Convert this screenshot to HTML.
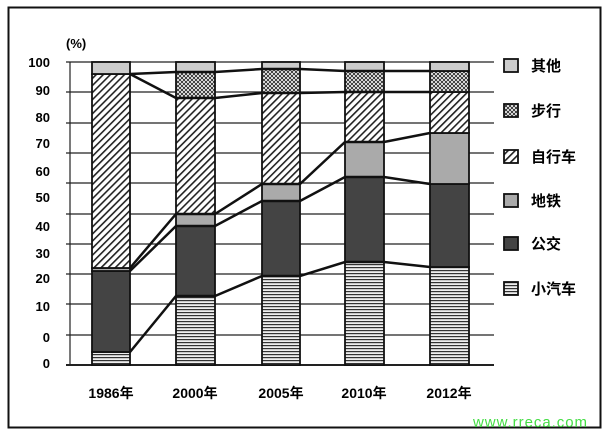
<!DOCTYPE html>
<html><head><meta charset="utf-8"><style>
html,body{margin:0;padding:0;background:#fff;}
svg{display:block;font-family:"Liberation Sans","Noto Sans CJK SC",sans-serif;font-weight:bold;}
</style></head><body>
<svg width="609" height="435" viewBox="0 0 609 435" xmlns="http://www.w3.org/2000/svg">
<defs>
<pattern id="hs" width="4" height="3" patternUnits="userSpaceOnUse"><rect width="4" height="3" fill="#eee"/><rect width="4" height="1.2" fill="#333"/></pattern>
<pattern id="dg" width="5" height="5" patternUnits="userSpaceOnUse" patternTransform="rotate(45)"><rect width="5" height="5" fill="#fff"/><rect width="1.6" height="5" fill="#222"/></pattern>
<pattern id="ch" width="4" height="4" patternUnits="userSpaceOnUse"><rect width="4" height="4" fill="#ddd"/><circle cx="2" cy="2" r="1.1" fill="#333"/><circle cx="0" cy="0" r="1.1" fill="#333"/><circle cx="4" cy="0" r="1.1" fill="#333"/><circle cx="0" cy="4" r="1.1" fill="#333"/><circle cx="4" cy="4" r="1.1" fill="#333"/></pattern>
</defs>
<rect x="8.5" y="7.5" width="592" height="420" fill="none" stroke="#111" stroke-width="2"/>
<text x="66" y="48" font-size="13">(%)</text>
<g stroke="#222" stroke-width="1.2">
<line x1="66" y1="62" x2="494" y2="62"/><line x1="66" y1="92" x2="494" y2="92"/><line x1="66" y1="123" x2="494" y2="123"/><line x1="66" y1="153" x2="494" y2="153"/><line x1="66" y1="183" x2="494" y2="183"/><line x1="66" y1="214" x2="494" y2="214"/><line x1="66" y1="244" x2="494" y2="244"/><line x1="66" y1="274" x2="494" y2="274"/><line x1="66" y1="304" x2="494" y2="304"/><line x1="66" y1="335" x2="494" y2="335"/>
<line x1="70" y1="62" x2="70" y2="365"/>
</g>
<line x1="66" y1="365" x2="494" y2="365" stroke="#222" stroke-width="2"/>
<g font-size="13" text-anchor="end">
<text x="50" y="67">100</text><text x="50" y="95">90</text><text x="50" y="122">80</text><text x="50" y="148">70</text><text x="50" y="176">60</text><text x="50" y="202">50</text><text x="50" y="231">40</text><text x="50" y="258">30</text><text x="50" y="283">20</text><text x="50" y="311">10</text><text x="50" y="342">0</text><text x="50" y="368">0</text>
</g>
<g stroke="#111" stroke-width="1.8">
<rect x="92" y="352" width="38" height="13" fill="url(#hs)"/>
<rect x="92" y="271" width="38" height="81" fill="#444"/>
<rect x="92" y="268" width="38" height="3" fill="#aaa"/>
<rect x="92" y="74" width="38" height="194" fill="url(#dg)"/>
<rect x="92" y="62" width="38" height="12" fill="#ccc"/>
<rect x="176" y="296" width="39" height="69" fill="url(#hs)"/>
<rect x="176" y="226" width="39" height="70" fill="#444"/>
<rect x="176" y="214" width="39" height="12" fill="#aaa"/>
<rect x="176" y="98" width="39" height="116" fill="url(#dg)"/>
<rect x="176" y="72" width="39" height="26" fill="url(#ch)"/>
<rect x="176" y="62" width="39" height="10" fill="#ccc"/>
<rect x="262" y="276" width="38" height="89" fill="url(#hs)"/>
<rect x="262" y="201" width="38" height="75" fill="#444"/>
<rect x="262" y="184" width="38" height="17" fill="#aaa"/>
<rect x="262" y="93" width="38" height="91" fill="url(#dg)"/>
<rect x="262" y="69" width="38" height="24" fill="url(#ch)"/>
<rect x="262" y="62" width="38" height="7" fill="#ccc"/>
<rect x="345" y="262" width="39" height="103" fill="url(#hs)"/>
<rect x="345" y="177" width="39" height="85" fill="#444"/>
<rect x="345" y="142" width="39" height="35" fill="#aaa"/>
<rect x="345" y="92" width="39" height="50" fill="url(#dg)"/>
<rect x="345" y="71" width="39" height="21" fill="url(#ch)"/>
<rect x="345" y="62" width="39" height="9" fill="#ccc"/>
<rect x="430" y="267" width="39" height="98" fill="url(#hs)"/>
<rect x="430" y="184" width="39" height="83" fill="#444"/>
<rect x="430" y="133" width="39" height="51" fill="#aaa"/>
<rect x="430" y="92" width="39" height="41" fill="url(#dg)"/>
<rect x="430" y="71" width="39" height="21" fill="url(#ch)"/>
<rect x="430" y="62" width="39" height="9" fill="#ccc"/>
</g>
<g stroke="#111" stroke-width="2.5" fill="none">
<polyline points="130,352 176,296 215,296 262,276 300,276 345,262 384,262 430,267"/>
<polyline points="130,271 176,226 215,226 262,201 300,201 345,177 384,177 430,184"/>
<polyline points="130,268 176,214 215,214 262,184 300,184 345,142 384,142 430,133"/>
<polyline points="130,74 176,98 215,98 262,93 300,93 345,92 384,92 430,92"/>
<polyline points="130,74 176,72 215,72 262,69 300,69 345,71 384,71 430,71"/>
</g>
<g font-size="14" text-anchor="middle">
<text x="111" y="398">1986年</text><text x="195" y="398">2000年</text><text x="281" y="398">2005年</text><text x="364" y="398">2010年</text><text x="449" y="398">2012年</text>
</g>
<g stroke="#111" stroke-width="1.8">
<rect x="504" y="59" width="14" height="13" fill="#ccc"/>
<rect x="504" y="104" width="14" height="13" fill="url(#ch)"/>
<rect x="504" y="150" width="14" height="13" fill="url(#dg)"/>
<rect x="504" y="194" width="14" height="13" fill="#aaa"/>
<rect x="504" y="237" width="14" height="13" fill="#444"/>
<rect x="504" y="282" width="14" height="13" fill="url(#hs)"/>
</g>
<g font-size="15">
<text x="531" y="71">其他</text><text x="531" y="116">步行</text><text x="531" y="162">自行车</text><text x="531" y="206">地铁</text><text x="531" y="249">公交</text><text x="531" y="294">小汽车</text>
</g>
<text x="473" y="427" font-size="15" font-weight="normal" fill="#4d4" textLength="114">www.rreca.com</text>
</svg>
</body></html>
